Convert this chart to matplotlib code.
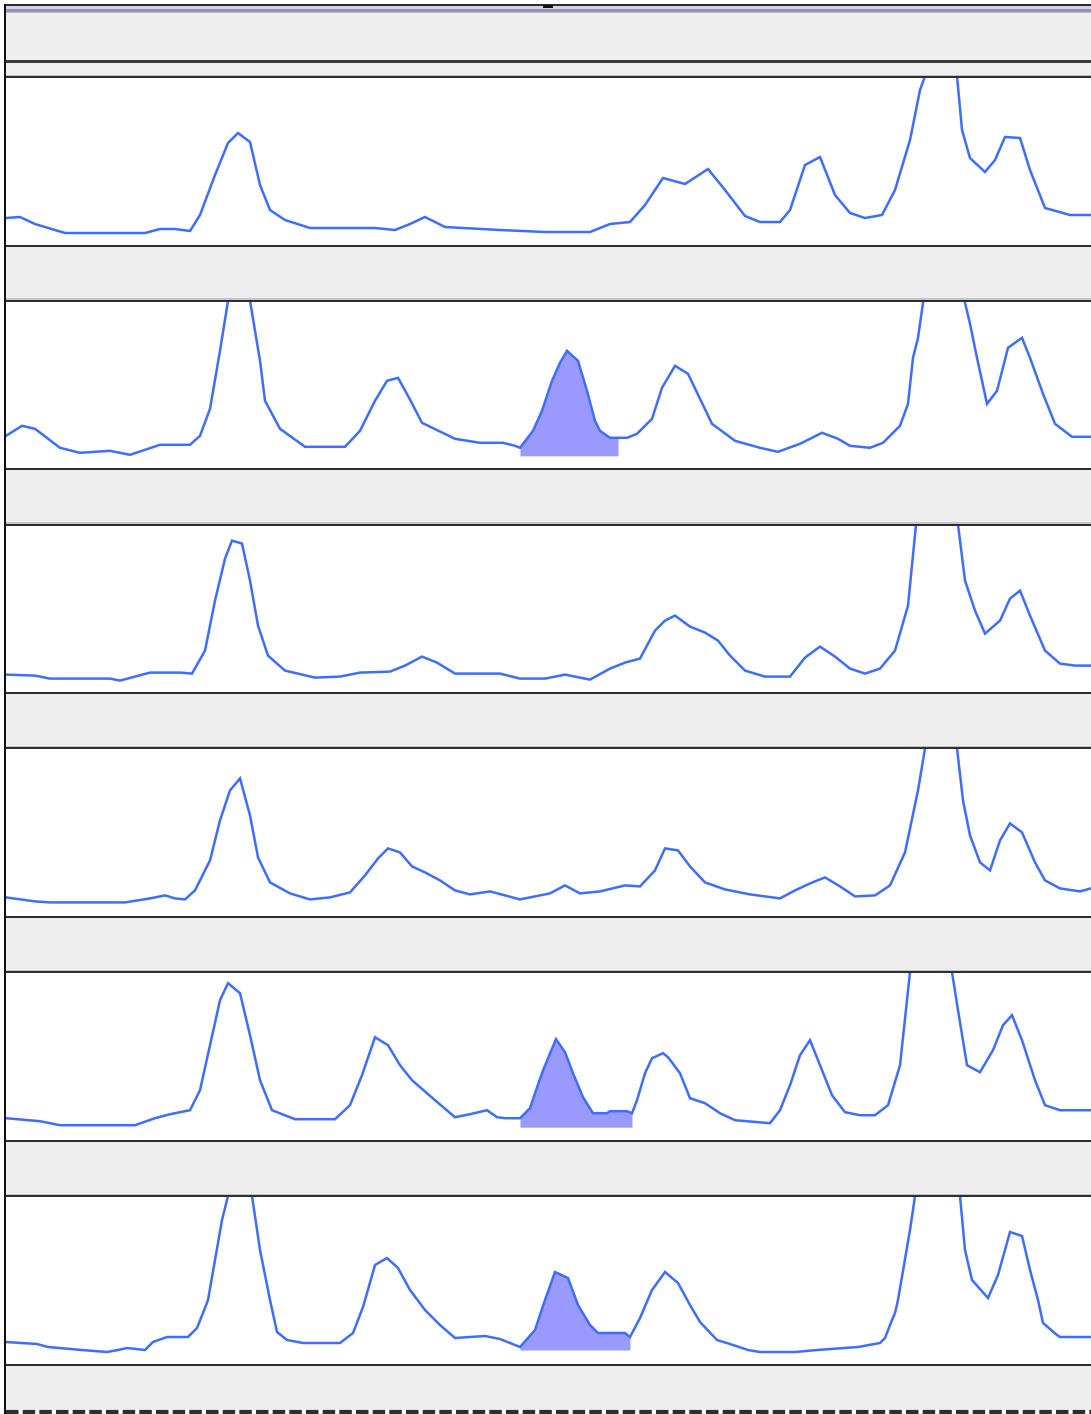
import numpy as np
import matplotlib
matplotlib.use("Agg")
import matplotlib.pyplot as plt
from matplotlib.patches import Rectangle

# ---------------------------------------------------------------
# data: coverage traces, one per track (position, coverage)
# ---------------------------------------------------------------
pos_1 = [6, 20, 35, 65, 145, 160, 175, 190, 200, 215, 228, 238, 250, 260, 270, 285, 310, 375, 395,
         410, 425, 445, 500, 545, 590, 610, 630, 645, 663, 685, 708, 725, 745, 760, 780, 790, 805,
         820, 835, 850, 865, 882, 895, 910, 920, 925, 941, 957, 962, 970, 985, 995, 1005, 1020,
         1030, 1045, 1070, 1091]
cov_1 = [27, 28, 21, 12, 12, 16, 16, 14, 30, 70, 102, 112, 103, 60, 35, 25, 17, 17, 15,
         21, 28, 18, 15, 13, 13, 21, 23, 40, 67, 61, 76, 55, 29, 23, 23, 35, 80,
         88, 50, 32, 27, 30, 55, 105, 155, 169, 240, 169, 115, 87, 73, 85, 108, 107,
         75, 37, 30, 30]

pos_2 = [6, 22, 35, 60, 80, 110, 130, 160, 190, 200, 210, 220, 228, 239, 250, 260, 265, 280, 305,
         345, 360, 375, 387, 398, 408, 422, 455, 480, 503, 515, 520, 533, 542, 552, 560, 567, 578,
         587, 595, 600, 610, 627, 637, 652, 662, 675, 688, 700, 712, 735, 760, 778, 800, 822, 838,
         850, 870, 883, 900, 908, 913, 918, 923, 944, 965, 970, 977, 987, 997, 1008, 1022, 1030,
         1043, 1055, 1072, 1091]
cov_2 = [33, 43, 40, 21, 16, 18, 14, 24, 24, 33, 60, 118, 168, 240, 168, 108, 68, 40, 22,
         22, 38, 68, 88, 91, 73, 46, 30, 26, 26, 23, 21, 38, 58, 88, 106, 118, 108,
         78, 48, 38, 31, 31, 35, 50, 81, 103, 95, 70, 45, 28, 21, 17, 25, 36, 30,
         23, 21, 26, 43, 65, 111, 131, 166, 240, 166, 145, 111, 65, 78, 121, 131, 111,
         75, 45, 32, 32]

pos_3 = [6, 35, 50, 110, 120, 150, 180, 192, 205, 215, 225, 232, 242, 250, 258, 268, 285, 315, 340,
         360, 390, 405, 422, 437, 455, 500, 520, 545, 565, 575, 590, 610, 625, 640, 655, 665, 675,
         690, 705, 718, 730, 745, 765, 790, 805, 820, 835, 850, 865, 880, 895, 908, 916, 937, 958,
         965, 975, 985, 1000, 1010, 1020, 1030, 1045, 1060, 1075, 1091]
cov_3 = [18, 17, 14, 14, 12, 20, 20, 19, 42, 92, 134, 152, 149, 112, 67, 37, 22, 15, 16,
         20, 21, 27, 36, 30, 19, 19, 14, 14, 18, 16, 13, 24, 30, 34, 62, 72, 77,
         66, 60, 52, 37, 22, 16, 16, 35, 46, 36, 24, 19, 24, 42, 87, 168, 240, 168,
         112, 82, 59, 72, 94, 102, 77, 42, 29, 27, 27]

pos_4 = [6, 35, 50, 125, 150, 165, 175, 185, 195, 210, 220, 230, 240, 250, 258, 270, 290, 310, 330,
         350, 365, 378, 388, 400, 412, 425, 440, 455, 470, 490, 505, 520, 550, 565, 580, 600, 625,
         640, 655, 665, 678, 690, 705, 725, 750, 780, 795, 810, 825, 840, 855, 875, 890, 905, 918,
         925, 941, 957, 963, 970, 980, 990, 1000, 1010, 1022, 1035, 1045, 1060, 1080, 1091]
cov_4 = [19, 15, 14, 14, 18, 21, 18, 17, 26, 56, 96, 126, 138, 101, 59, 34, 23, 17, 19,
         24, 41, 58, 68, 64, 50, 44, 36, 26, 22, 25, 21, 17, 23, 31, 23, 25, 31,
         30, 46, 68, 66, 50, 34, 27, 22, 18, 26, 33, 39, 30, 20, 21, 31, 64, 126,
         168, 240, 168, 116, 81, 54, 46, 76, 93, 84, 54, 36, 28, 25, 28]

pos_5 = [6, 40, 60, 135, 155, 170, 190, 200, 210, 220, 228, 240, 250, 260, 272, 295, 335, 350, 362,
         375, 388, 400, 412, 435, 455, 470, 487, 497, 505, 520, 530, 535, 542, 548, 556, 565, 573,
         583, 593, 607, 610, 627, 632, 637, 645, 652, 663, 668, 680, 690, 705, 720, 735, 770, 780,
         790, 800, 810, 820, 832, 845, 860, 875, 888, 900, 910, 931, 952, 958, 967, 980, 993,
         1003, 1012, 1022, 1035, 1045, 1060, 1091]
cov_5 = [22, 19, 15, 15, 22, 26, 30, 50, 95, 140, 157, 147, 105, 60, 30, 21, 21, 35, 65,
         103, 95, 75, 60, 40, 23, 26, 30, 23, 22, 22, 32, 47, 67, 82, 101, 88, 67,
         43, 27, 27, 29, 29, 27, 40, 67, 82, 87, 83, 67, 42, 37, 27, 20, 17, 30,
         55, 85, 100, 75, 45, 28, 25, 25, 35, 75, 168, 240, 168, 130, 75, 68, 90,
         115, 125, 100, 60, 35, 30, 30]

pos_6 = [6, 37, 48, 82, 107, 118, 127, 145, 153, 167, 188, 197, 203, 208, 215, 222, 228, 240, 252,
         260, 270, 277, 287, 303, 340, 353, 363, 375, 387, 398, 410, 425, 440, 455, 470, 485, 500,
         520, 535, 545, 555, 568, 578, 590, 598, 625, 630, 640, 652, 665, 678, 690, 700, 717, 730,
         748, 760, 795, 817, 858, 880, 885, 890, 895, 898, 910, 915, 937, 960, 965, 972, 988, 998,
         1010, 1022, 1030, 1038, 1043, 1057, 1060, 1091]
cov_6 = [22, 20, 17, 14, 12, 14, 16, 14, 22, 27, 27, 36, 51, 64, 104, 144, 168, 240, 168,
         114, 64, 32, 24, 21, 21, 31, 57, 99, 106, 96, 74, 54, 39, 26, 27, 28, 25,
         17, 34, 64, 92, 86, 59, 39, 31, 31, 27, 46, 74, 92, 81, 59, 42, 24, 20,
         14, 12, 12, 14, 17, 21, 26, 39, 51, 64, 134, 168, 240, 168, 114, 84, 66, 89,
         132, 128, 94, 64, 41, 29, 27, 27]

positions = [pos_1, pos_2, pos_3, pos_4, pos_5, pos_6]
coverage = [cov_1, cov_2, cov_3, cov_4, cov_5, cov_6]

# highlighted region per track: (start, end, floor) or None
highlight = [None, (520, 618, 13), None, None, (520, 632, 13), (520, 630, 14)]

# ---------------------------------------------------------------
# layout (pixels)
# ---------------------------------------------------------------
W, H = 1091, 1414
X0 = 6
PANEL_H = 167
panel_bottoms = [245 + i * 223.8 for i in range(6)]

LINE_C = '#3f6dff'
FILL_C = '#9a9afd'
BAND_C = '#eeeeee'
DARK = '#2e2e2e'

fig = plt.figure(figsize=(W / 100, H / 100), dpi=100)
fig.patch.set_facecolor('white')

bg = fig.add_axes([0, 0, 1, 1])
bg.set_xlim(0, W)
bg.set_ylim(H, 0)
bg.axis('off')


def band(y0, y1, color, x0=X0):
    bg.add_patch(Rectangle((x0, y0), W - x0, y1 - y0, color=color, lw=0))


# top header
band(4, 5.5, DARK, 4)
band(5.5, 9, '#d2d2ea')
band(9, 11.5, '#9494b4')
band(11.5, 13, '#bcbcbc')
band(13, 60, BAND_C)
band(60, 62.5, '#3a3a3a')
band(62.5, 74.5, '#efefef')
band(74.5, 76, '#c4c4c4')
band(76, 78, DARK)
bg.add_patch(Rectangle((543, 4.5), 10, 3, color='#111111', lw=0))

# separators between tracks
for i, b in enumerate(panel_bottoms):
    band(b - 0.5, b + 1.5, DARK)
    if i < len(panel_bottoms) - 1:
        nxt_top = panel_bottoms[i + 1] - PANEL_H
        band(b + 1.5, nxt_top - 3.5, BAND_C)
        band(nxt_top - 3.5, nxt_top - 2, '#c4c4c4')
        band(nxt_top - 2, nxt_top, DARK)
    else:
        band(b + 1.5, 1409.5, BAND_C)
        bg.hlines(1411.5, X0, W, colors=DARK, lw=3, linestyles=(0, (3, 1)))

# left border
bg.add_patch(Rectangle((4, 4), 2, H - 4, color='#111111', lw=0))

# ---------------------------------------------------------------
# tracks
# ---------------------------------------------------------------
for i in range(6):
    b = panel_bottoms[i]
    ax = fig.add_axes([X0 / W, 1 - b / H, (W - X0) / W, PANEL_H / H])
    ax.set_facecolor('none')
    ax.set_xlim(X0, W)
    ax.set_ylim(0, PANEL_H)
    ax.axis('off')

    x = np.array(positions[i], dtype=float)
    y = np.array(coverage[i], dtype=float)

    if highlight[i] is not None:
        s, e, floor = highlight[i]
        inside = (x > s) & (x < e)
        fx = np.concatenate([[s], x[inside], [e]])
        fy = np.concatenate([[np.interp(s, x, y)], y[inside], [np.interp(e, x, y)]])
        ax.fill_between(fx, fy, floor, color=FILL_C, lw=0, zorder=1)

    ax.plot(x, y, color=LINE_C, lw=1.8, zorder=2, solid_joinstyle='miter')

fig.savefig('out.png', dpi=100)
